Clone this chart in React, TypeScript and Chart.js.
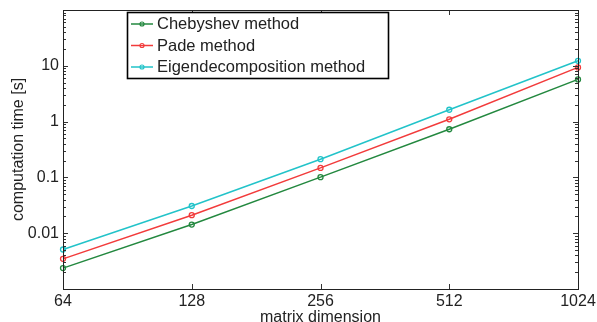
import React, { useEffect, useRef } from 'react';
import { Chart, registerables } from 'chart.js';

Chart.register(...registerables);

const matrixDims = [64, 128, 256, 512, 1024];
const chebyshevTimes = [0.00237, 0.0143, 0.101, 0.73, 5.7];
const padeTimes = [0.00347, 0.021, 0.148, 1.1, 9.36];
const eigenTimes = [0.0051, 0.0307, 0.212, 1.63, 12.3];

const xTickValues = [64, 128, 256, 512, 1024];
const xTickLabels = ['64', '128', '256', '512', '1024'];
const yTickValues = [0.01, 0.1, 1, 10];
const yTickLabels = ['0.01', '0.1', '1', '10'];

const seriesLabels = ['Chebyshev method', 'Pade method', 'Eigendecomposition method'];
const seriesColors = ['#23883f', '#f23b3b', '#22c3c9'];

const FONT = '"Liberation Sans", Arial, Helvetica, sans-serif';
const TEXT = '#222222';

const axesBoxPlugin = {
  id: 'axesBox',
  afterDatasetsDraw(chart: any) {
    const { ctx, chartArea: a, scales } = chart;
    const xs = scales.x;
    const ys = scales.y;
    ctx.save();
    ctx.strokeStyle = '#333333';
    ctx.lineWidth = 1;
    const line = (x1: number, y1: number, x2: number, y2: number) => {
      ctx.beginPath();
      ctx.moveTo(x1, y1);
      ctx.lineTo(x2, y2);
      ctx.stroke();
    };
    const yMin = ys.min;
    const yMax = ys.max;
    for (let d = -4; d <= 3; d++) {
      for (let k = 1; k <= 9; k++) {
        const v = k * Math.pow(10, d);
        if (v <= yMin * 1.0001 || v >= yMax * 0.9999) continue;
        const py = Math.round(ys.getPixelForValue(v)) + 0.5;
        const len = k === 1 ? 5 : 3;
        line(a.left, py, a.left + len, py);
        line(a.right, py, a.right - len, py);
      }
    }
    xTickValues.forEach((v) => {
      if (v <= xs.min || v >= xs.max) return;
      const px = Math.round(xs.getPixelForValue(v)) + 0.5;
      line(px, a.bottom, px, a.bottom - 5);
      line(px, a.top, px, a.top + 5);
    });
    ctx.strokeStyle = '#222222';
    ctx.strokeRect(Math.round(a.left) + 0.5, Math.round(a.top) + 0.5, Math.round(a.right - a.left), Math.round(a.bottom - a.top));

    // legend
    const lx = 127.5;
    const ly = 12.5;
    const lw = 261;
    const lh = 66;
    ctx.fillStyle = '#ffffff';
    ctx.fillRect(lx, ly, lw, lh);
    ctx.strokeStyle = '#000000';
    ctx.lineWidth = 1.6;
    ctx.strokeRect(lx, ly, lw, lh);
    ctx.font = `16.5px ${FONT}`;
    ctx.textBaseline = 'middle';
    ctx.textAlign = 'left';
    chart.data.datasets.forEach((ds: any, i: number) => {
      const cy = 24 + i * 21.5;
      ctx.strokeStyle = ds.borderColor;
      ctx.lineWidth = 1.5;
      line(131, cy, 153, cy);
      ctx.beginPath();
      ctx.arc(142, cy, 2, 0, Math.PI * 2);
      ctx.lineWidth = 1.2;
      ctx.stroke();
      ctx.fillStyle = TEXT;
      ctx.fillText(ds.label, 157, cy + 0.5);
    });
    ctx.restore();
  },
};

export default function App() {
  const canvasRef = useRef<HTMLCanvasElement | null>(null);

  useEffect(() => {
    if (!canvasRef.current) return;
    const mk = (vals: number[], i: number) => ({
      label: seriesLabels[i],
      data: matrixDims.map((x, j) => ({ x, y: vals[j] })),
      borderColor: seriesColors[i],
      backgroundColor: 'rgba(0,0,0,0)',
      pointBackgroundColor: 'rgba(0,0,0,0)',
      pointBorderColor: seriesColors[i],
      pointRadius: 2.5,
      pointBorderWidth: 1.3,
      borderWidth: 1.5,
      tension: 0,
      clip: false as any,
    });
    const chart = new Chart(canvasRef.current, {
      type: 'line',
      data: {
        datasets: [mk(chebyshevTimes, 0), mk(padeTimes, 1), mk(eigenTimes, 2)],
      },
      options: {
        responsive: false,
        animation: false,
        devicePixelRatio: 1,
        layout: { padding: { left: 0, top: 10, right: 19, bottom: 0 } },
        plugins: { legend: { display: false }, tooltip: { enabled: false } },
        scales: {
          x: {
            type: 'logarithmic',
            min: 64,
            max: 1024,
            grid: { display: false, drawTicks: false },
            border: { display: false },
            afterBuildTicks: (s: any) => {
              s.ticks = xTickValues.map((v) => ({ value: v }));
            },
            afterFit: (s: any) => {
              s.height = 33;
              s.paddingLeft = 0;
              s.paddingRight = 0;
            },
            ticks: {
              autoSkip: false,
              maxRotation: 0,
              padding: 3,
              color: TEXT,
              font: { family: FONT, size: 16 },
              callback: (v: any) => {
                const idx = xTickValues.indexOf(Number(v));
                return idx >= 0 ? xTickLabels[idx] : '';
              },
            },
            title: {
              display: true,
              text: 'matrix dimension',
              color: TEXT,
              font: { family: FONT, size: 16, lineHeight: 0.6 },
              padding: { top: 0, bottom: 0 },
            },
          },
          y: {
            type: 'logarithmic',
            min: 0.001,
            max: 100,
            grid: { display: false, drawTicks: false },
            border: { display: false },
            afterBuildTicks: (s: any) => {
              s.ticks = yTickValues.map((v) => ({ value: v }));
            },
            afterFit: (s: any) => {
              s.width = 63;
              s.paddingTop = 0;
              s.paddingBottom = 0;
            },
            ticks: {
              autoSkip: false,
              padding: 4,
              color: TEXT,
              font: { family: FONT, size: 16 },
              callback: (v: any) => {
                const idx = yTickValues.findIndex((t) => Math.abs(t - Number(v)) / t < 1e-6);
                return idx >= 0 ? yTickLabels[idx] : '';
              },
            },
            title: {
              display: true,
              text: 'computation time [s]',
              color: TEXT,
              font: { family: FONT, size: 16 },
              padding: { top: 9, bottom: 0 },
            },
          },
        },
      },
      plugins: [axesBoxPlugin],
    });
    return () => chart.destroy();
  }, []);

  return (
    <div style={{ position: 'absolute', left: 0, top: 0, width: 597, height: 322 }}>
      <canvas ref={canvasRef} width={597} height={322} style={{ display: 'block' }} />
    </div>
  );
}
